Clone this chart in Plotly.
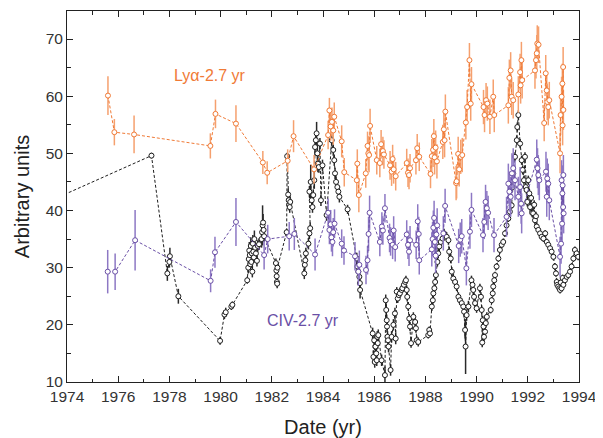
import plotly.graph_objects as go

# ---------------- Lyα - 2.7 yr (orange) ----------------
lya_t = [1975.6, 1975.85, 1976.62, 1979.6, 1979.8, 1980.6, 1981.65, 1981.82, 1982.62, 1982.85,
         1983.65, 1984.2, 1984.25, 1984.3, 1984.35, 1984.4, 1984.44, 1984.73, 1984.83,
         1985.32, 1985.34, 1985.4, 1985.67, 1985.74, 1985.77, 1985.8, 1985.84,
         1986.1, 1986.22, 1986.27, 1986.34, 1986.38, 1986.62, 1986.68, 1986.72, 1986.76, 1986.84,
         1987.27, 1987.32, 1987.36, 1987.4, 1987.63, 1987.68, 1987.76,
         1988.2, 1988.25, 1988.3, 1988.33, 1988.36, 1988.4, 1988.45, 1988.68, 1988.72, 1988.75, 1988.78,
         1989.2, 1989.22, 1989.28, 1989.32, 1989.38, 1989.44, 1989.58, 1989.63, 1989.72, 1989.77, 1989.8,
         1990.27, 1990.31, 1990.37, 1990.42, 1990.52, 1990.65, 1990.69,
         1991.24, 1991.28, 1991.33, 1991.37, 1991.43, 1991.63, 1991.7, 1991.72, 1991.75, 1991.78,
         1992.28, 1992.32, 1992.35, 1992.37, 1992.42, 1992.64, 1992.7, 1992.74, 1992.76, 1992.8, 1992.84,
         1993.26, 1993.28, 1993.32, 1993.35, 1993.36, 1993.38, 1993.39]
lya_v = [60.1, 53.7, 53.3, 51.3, 56.9, 55.2, 48.4, 46.6, 48.7, 53.0,
         47.2, 53.2, 57.5, 54.7, 55.5, 54.0, 56.4, 52.1, 46.7,
         45.3, 48.2, 42.7, 46.5, 51.3, 50.0, 49.7, 54.8,
         48.8, 48.3, 51.6, 50.4, 49.8, 47.9, 46.8, 49.0, 47.2, 46.0,
         48.3, 46.6, 46.2, 47.4, 48.8, 50.9, 49.4,
         46.4, 49.5, 50.6, 53.0, 49.3, 51.0, 48.6, 52.0, 54.2, 52.3, 57.3,
         44.8, 45.1, 49.9, 47.2, 49.4, 49.7, 55.4, 58.1, 66.3, 58.7, 62.1,
         58.1, 56.7, 59.3, 58.7, 56.4, 59.9, 56.7,
         58.4, 63.2, 64.5, 59.9, 59.3, 60.3, 64.2, 61.9, 66.3, 62.8,
         64.5, 66.3, 67.5, 69.2, 69.0, 55.3, 64.0, 61.0, 59.0, 58.1, 59.3,
         50.0, 56.7, 59.9, 62.2, 54.9, 65.1, 57.6]
lya_e = [3.4, 2.3, 3.3, 2.2, 2.5, 3.2, 2.0, 2.0, 2.0, 2.8,
         2.5, 2.5, 2.2, 2.5, 2.5, 2.5, 2.5, 2.8, 2.5,
         2.5, 2.5, 3.0, 2.5, 2.5, 3.0, 3.0, 3.0,
         2.5, 2.5, 2.5, 2.5, 2.5, 2.5, 2.5, 2.5, 2.5, 2.5,
         2.5, 2.5, 2.5, 2.5, 2.5, 2.5, 2.5,
         2.5, 3.0, 3.0, 3.0, 3.0, 3.0, 3.0, 3.0, 3.0, 3.0, 3.0,
         3.0, 3.0, 3.0, 3.0, 3.0, 3.0, 3.0, 3.0, 3.0, 3.0, 3.0,
         3.0, 3.0, 3.0, 3.0, 3.0, 3.0, 3.0,
         3.2, 3.2, 3.2, 3.2, 3.2, 3.2, 3.2, 3.2, 3.2, 3.2,
         3.2, 3.2, 3.2, 3.2, 3.2, 3.2, 3.2, 3.2, 3.2, 3.2, 3.2,
         3.5, 3.5, 3.5, 3.5, 3.5, 3.5, 3.5]

# ---------------- CIV - 2.7 yr (purple) ----------------
civ_t = [1975.59, 1975.88, 1976.66, 1979.61, 1979.78, 1980.6, 1981.7, 1981.84, 1982.68, 1982.88,
         1983.69, 1984.2, 1984.25, 1984.3, 1984.33, 1984.37, 1984.4, 1984.45, 1984.73, 1984.82,
         1985.25, 1985.38, 1985.42, 1985.68, 1985.74, 1985.78, 1985.82,
         1986.22, 1986.3, 1986.34, 1986.42, 1986.6, 1986.64, 1986.72, 1986.76, 1986.82,
         1987.27, 1987.32, 1987.36, 1987.4, 1987.64, 1987.7, 1987.74, 1987.76,
         1988.25, 1988.28, 1988.31, 1988.34, 1988.37, 1988.4, 1988.43, 1988.46, 1988.7, 1988.77,
         1989.3, 1989.36, 1989.42, 1989.6, 1989.74, 1989.8,
         1990.25, 1990.3, 1990.35, 1990.4, 1990.45, 1990.68,
         1991.17, 1991.24, 1991.28, 1991.33, 1991.38, 1991.43, 1991.5, 1991.63, 1991.7, 1991.74, 1991.76,
         1992.35, 1992.38, 1992.41, 1992.45, 1992.71, 1992.74, 1992.76, 1992.8, 1992.84,
         1993.26, 1993.3, 1993.32, 1993.34, 1993.35, 1993.36, 1993.38, 1993.39, 1993.4]
civ_v = [29.3, 29.3, 34.8, 27.7, 32.7, 38.0, 32.2, 35.0, 35.5, 35.9,
         32.3, 39.6, 36.6, 37.6, 35.3, 34.5, 36.2, 37.7, 34.2, 33.0,
         32.0, 29.3, 30.5, 29.6, 31.3, 35.9, 39.6,
         34.5, 37.2, 36.5, 40.4, 35.2, 34.6, 34.0, 36.5, 33.6,
         35.8, 34.0, 32.8, 34.8, 34.0, 38.1, 35.9, 31.3,
         33.2, 35.0, 37.0, 38.7, 34.5, 32.1, 35.8, 37.4, 36.0, 40.8,
         33.8, 34.9, 35.5, 29.9, 36.3, 40.1,
         35.7, 38.0, 41.5, 40.4, 39.6, 35.7,
         38.9, 44.7, 43.3, 42.4, 46.5, 47.4, 45.3, 42.4, 44.1, 41.2, 39.5,
         48.9, 47.4, 46.2, 45.3, 46.8, 42.4, 45.6, 44.7, 41.8,
         31.9, 34.2, 45.3, 37.7, 43.0, 44.4, 40.6, 46.2, 39.5]
civ_e = [3.8, 3.2, 5.3, 2.0, 2.7, 4.2, 2.5, 2.5, 2.5, 2.8,
         2.8, 2.5, 2.5, 2.5, 2.5, 2.5, 2.5, 2.5, 2.5, 2.5,
         2.5, 2.5, 2.5, 2.5, 2.5, 3.0, 3.0,
         2.5, 2.5, 2.5, 2.5, 2.5, 2.5, 2.5, 2.5, 2.5,
         2.5, 2.5, 2.5, 2.5, 2.5, 3.0, 3.0, 2.5,
         3.0, 3.0, 3.0, 3.0, 3.0, 3.0, 3.0, 3.0, 3.0, 3.0,
         3.0, 3.0, 3.0, 3.0, 3.0, 3.0,
         3.0, 3.0, 3.0, 3.0, 3.0, 3.0,
         3.5, 3.5, 3.5, 3.5, 3.5, 3.5, 3.5, 3.5, 3.5, 3.5, 3.5,
         3.5, 3.5, 3.5, 3.5, 3.5, 3.5, 3.5, 3.5, 3.5,
         3.5, 3.5, 3.5, 3.5, 3.5, 3.5, 3.5, 3.5, 3.5]

# ---------------- black series ----------------
blk_t = [1973.0, 1977.3, 1977.92, 1978.0, 1978.02, 1978.35, 1979.98, 1980.15, 1980.2, 1980.42, 1980.46,
         1981.04, 1981.08, 1981.1, 1981.12, 1981.14, 1981.16, 1981.18, 1981.2, 1981.22, 1981.24,
         1981.26, 1981.28, 1981.3, 1981.32, 1981.35, 1981.38, 1981.42, 1981.45, 1981.5,
         1981.6, 1981.62, 1981.64, 1981.66, 1981.68, 1981.7,
         1982.16, 1982.18, 1982.19, 1982.2, 1982.21, 1982.22,
         1982.58, 1982.6, 1982.64, 1982.66, 1982.68, 1982.7, 1982.72,
         1983.27, 1983.29, 1983.31, 1983.33, 1983.43, 1983.47, 1983.5,
         1983.47, 1983.52, 1983.56, 1983.59, 1983.62, 1983.66, 1983.69, 1983.72, 1983.75, 1983.78,
         1983.8, 1983.84, 1983.88, 1983.92, 1983.98,
         1984.14, 1984.34, 1984.4, 1984.44, 1984.47, 1984.51, 1984.56, 1984.6, 1984.64,
         1984.96, 1985.32, 1985.34, 1985.38, 1985.42, 1985.44, 1985.45,
         1985.94, 1985.97, 1986.0, 1986.02, 1986.05, 1986.08, 1986.1, 1986.12, 1986.14, 1986.16,
         1986.29, 1986.42, 1986.45, 1986.47, 1986.49, 1986.5, 1986.52, 1986.54, 1986.56,
         1986.64, 1986.68, 1986.75, 1986.81, 1986.84,
         1986.88, 1986.92, 1986.96, 1987.0, 1987.07, 1987.1, 1987.16, 1987.21, 1987.24, 1987.27,
         1987.29, 1987.33, 1987.37, 1987.4, 1987.44,
         1987.53, 1987.6, 1987.63, 1987.66, 1987.72,
         1988.11, 1988.15, 1988.18, 1988.25, 1988.29, 1988.31, 1988.35, 1988.38, 1988.41,
         1988.47, 1988.5, 1988.54, 1988.6, 1988.67, 1988.73, 1988.83, 1988.9,
         1988.93, 1988.99, 1989.03, 1989.09, 1989.16, 1989.22,
         1989.29, 1989.35, 1989.42, 1989.48, 1989.51, 1989.55, 1989.57, 1989.61, 1989.68,
         1989.8, 1989.84, 1989.87, 1989.9, 1989.94, 1990.0,
         1990.13, 1990.17, 1990.2, 1990.22, 1990.24, 1990.27, 1990.29, 1990.33, 1990.36, 1990.4,
         1990.55, 1990.59, 1990.63, 1990.65, 1990.69, 1990.72, 1990.78, 1990.85,
         1990.91, 1990.98, 1991.04, 1991.11, 1991.17, 1991.24, 1991.3, 1991.37,
         1991.4, 1991.43, 1991.5, 1991.57, 1991.59, 1991.63,
         1991.7, 1991.76, 1991.8, 1991.85, 1991.89, 1991.92, 1991.95, 1991.98, 1992.02,
         1992.06, 1992.09, 1992.13, 1992.17, 1992.21, 1992.25, 1992.28, 1992.32, 1992.35,
         1992.41, 1992.48, 1992.54, 1992.61, 1992.68, 1992.74, 1992.8, 1992.87, 1992.93,
         1993.0, 1993.06, 1993.1, 1993.13, 1993.15, 1993.19, 1993.23, 1993.26, 1993.29,
         1993.32, 1993.36, 1993.39, 1993.45, 1993.52, 1993.58, 1993.65, 1993.71,
         1993.78, 1993.84, 1993.91, 1993.97]
blk_v = [41.0, 49.6, 29.0, 31.0, 32.0, 25.0, 17.2, 21.8, 22.2, 23.2, 23.5,
         27.8, 30.0, 31.5, 33.0, 32.2, 30.6, 33.8, 31.0, 32.5, 29.3,
         34.2, 32.8, 31.8, 35.0, 33.5, 32.5, 31.2, 33.8, 34.1,
         35.0, 36.2, 37.4, 37.9, 36.6, 35.5,
         30.8, 29.5, 28.5, 27.5, 27.2, 30.0,
         36.2, 49.5, 42.8, 41.8, 41.0, 40.6, 41.5,
         29.0, 30.5, 31.3, 32.5, 34.2, 36.0, 36.9,
         43.3, 45.0, 41.8, 40.6, 42.7, 45.3, 51.1, 52.3, 53.5, 50.0,
         48.2, 47.6, 51.7, 41.8, 47.9,
         39.2, 52.3, 50.6, 48.8, 46.5, 45.0, 44.1, 43.3, 42.4,
         40.2, 31.6, 30.2, 29.3, 28.4, 27.3, 26.1,
         18.5, 14.4, 17.3, 13.5, 16.2, 15.0, 13.8, 17.9, 16.8, 18.2,
         13.8, 11.2, 24.3, 22.6, 20.8, 19.7, 17.9, 17.3, 16.2,
         12.1, 17.9, 20.0, 22.0, 17.6,
         25.8, 24.6, 25.2, 25.5, 26.1, 26.4, 27.0, 27.5, 27.8, 26.1,
         24.9, 23.2, 21.1, 19.7, 16.8,
         21.4, 20.5, 19.4, 17.3, 17.0,
         18.2, 19.1, 18.5, 23.2, 24.3, 25.5, 26.4, 27.5, 28.7,
         31.0, 32.5, 33.7, 34.5, 35.1, 36.0, 35.4, 34.8,
         32.8, 31.6, 29.3, 28.1, 27.5, 26.7,
         24.9, 24.3, 23.8, 23.2, 22.3, 19.1, 16.2, 21.7, 23.2,
         27.8, 27.0, 26.1, 24.9, 23.8, 22.9,
         26.4, 24.9, 22.6, 16.9, 20.8, 19.7, 17.9, 18.8, 20.3, 21.4,
         22.6, 24.3, 25.5, 26.7, 27.8, 28.7, 30.2, 31.6,
         33.1, 34.0, 34.5, 36.0, 37.4, 38.6, 39.8, 40.9,
         44.1, 46.5, 49.4, 52.3, 54.6, 56.7,
         51.7, 48.8, 47.1, 45.3, 49.4, 44.1, 43.6, 41.5, 45.3,
         43.0, 40.6, 42.2, 39.6, 39.5, 41.0, 38.3, 39.0, 37.2,
         36.6, 36.0, 35.4, 35.1, 36.0, 34.5, 34.0, 33.4, 32.8,
         31.9, 30.2, 29.0, 27.5, 27.0, 26.7, 26.4, 26.1, 27.4,
         26.4, 28.2, 27.0, 27.8, 28.4, 28.7, 29.3, 30.2,
         31.6, 33.1, 32.5, 31.9]
blk_e = [0.5, 0.5, 1.3, 1.0, 1.5, 1.3, 0.7, 0.8, 0.8, 0.6, 0.6,
         0.6, 1.0, 1.0, 1.5, 1.0, 1.0, 1.5, 1.0, 1.0, 1.0,
         1.5, 1.0, 1.0, 1.5, 1.0, 1.0, 1.0, 1.0, 1.0,
         1.5, 1.5, 3.5, 1.5, 1.5, 1.0,
         0.8, 0.8, 0.8, 0.8, 0.8, 0.8,
         0.6, 0.6, 1.0, 1.0, 1.0, 1.0, 1.0,
         1.0, 1.0, 1.0, 1.0, 1.0, 1.0, 1.0,
         1.0, 3.0, 1.0, 1.0, 1.0, 1.5, 1.5, 1.5, 2.0, 1.5,
         1.5, 1.0, 1.0, 1.0, 1.0,
         1.0, 1.0, 1.0, 1.0, 1.0, 1.0, 1.0, 1.0, 1.0,
         0.8, 1.0, 1.0, 1.0, 1.0, 1.0, 1.5,
         1.0, 1.0, 1.0, 1.0, 1.0, 1.0, 1.0, 1.0, 1.0, 1.0,
         1.0, 1.5, 1.0, 1.0, 1.0, 1.0, 1.0, 1.0, 1.0,
         1.0, 1.0, 1.0, 1.0, 1.0,
         0.8, 0.8, 0.8, 0.8, 0.8, 0.8, 0.8, 0.8, 0.8, 0.8,
         0.8, 0.8, 0.8, 0.8, 0.8,
         0.8, 0.8, 0.8, 0.8, 0.8,
         0.6, 0.6, 0.6, 0.8, 0.8, 0.8, 0.8, 0.8, 0.8,
         0.8, 0.8, 0.8, 0.8, 0.8, 0.8, 0.8, 0.8,
         0.8, 0.8, 0.8, 0.8, 0.8, 0.8,
         0.8, 0.8, 0.8, 0.8, 1.0, 1.5, 4.8, 1.0, 1.0,
         0.8, 0.8, 0.8, 0.8, 0.8, 0.8,
         0.8, 0.8, 0.8, 0.8, 0.8, 0.8, 0.8, 0.8, 0.8, 0.8,
         0.6, 0.6, 0.6, 0.6, 0.6, 0.6, 0.6, 0.6,
         0.6, 0.6, 0.6, 0.6, 0.6, 0.6, 0.6, 0.6,
         0.8, 0.8, 0.8, 0.8, 0.8, 0.8,
         0.8, 0.8, 0.8, 0.8, 0.8, 0.8, 0.8, 0.8, 0.8,
         0.8, 0.8, 0.8, 0.8, 0.8, 0.8, 0.8, 0.8, 0.8,
         0.6, 0.6, 0.6, 0.6, 0.6, 0.6, 0.6, 0.6, 0.6,
         0.6, 0.6, 0.6, 0.6, 0.6, 0.6, 0.6, 0.6, 0.6,
         0.6, 0.6, 0.6, 0.6, 0.6, 0.6, 0.6, 0.6,
         0.6, 0.6, 0.6, 0.6]

x_ticks = [1974, 1976, 1978, 1980, 1982, 1984, 1986, 1988, 1990, 1992, 1994]
y_ticks = [10, 20, 30, 40, 50, 60, 70]

FONT = "Liberation Sans, Arial, sans-serif"


def series(t, v, e, col, ecol, name):
    return go.Scatter(
        x=t, y=v, mode="lines+markers", name=name,
        line=dict(color=col, width=1, dash="3px,2px"),
        marker=dict(symbol="circle", size=5, color="white", line=dict(color=col, width=1)),
        error_y=dict(type="data", array=e, visible=True, color=ecol, thickness=1.5, width=0),
        showlegend=False,
    )


fig = go.Figure()
fig.add_trace(series(blk_t, blk_v, blk_e, "#1e1e1e", "#2a2a2a", "black"))
fig.add_trace(series(civ_t, civ_v, civ_e, "#6a4fa6", "#8d78c4", "CIV"))
fig.add_trace(series(lya_t, lya_v, lya_e, "#f07a36", "#f5a06e", "Lya"))

fig.add_annotation(x=1979.59, y=63.7, text="Lyα-2.7 yr", showarrow=False,
                   font=dict(family=FONT, size=16, color="#f07a36"))
fig.add_annotation(x=1983.2, y=20.8, text="CIV-2.7 yr", showarrow=False,
                   font=dict(family=FONT, size=16, color="#6a4fa6"))

# the page body has an 8px margin; the figure is placed at (8, 8)
fig.update_layout(
    width=595, height=430,
    margin=dict(l=59, r=24, t=3, b=56),
    paper_bgcolor="white", plot_bgcolor="white",
    font=dict(family=FONT, size=15, color="#222"),
)
fig.update_xaxes(
    range=[1974, 1994], tickvals=x_ticks, ticktext=[str(v) for v in x_ticks],
    ticks="inside", ticklen=6, tickwidth=1, tickcolor="#222",
    minor=dict(dtick=1, tick0=1974, ticks="inside", ticklen=3.5, tickcolor="#222", showgrid=False),
    showline=True, linecolor="#222", linewidth=1, mirror="ticks",
    showgrid=False, zeroline=False, ticklabeloverflow="allow",
    tickfont=dict(size=15.5, color="#333"),
    title=dict(text="Date (yr)", font=dict(size=20, color="#222"), standoff=16),
)
fig.update_yaxes(
    range=[10, 74.9], tickvals=y_ticks, ticktext=[str(v) for v in y_ticks],
    ticks="inside", ticklen=6, tickwidth=1, tickcolor="#222",
    minor=dict(dtick=5, tick0=10, ticks="inside", ticklen=3.5, tickcolor="#222", showgrid=False),
    showline=True, linecolor="#222", linewidth=1, mirror="ticks",
    showgrid=False, zeroline=False,
    tickfont=dict(size=15.5, color="#333"),
    title=dict(text="Arbitrary units", font=dict(size=20, color="#222"), standoff=10),
)

fig.write_html("out.html")
